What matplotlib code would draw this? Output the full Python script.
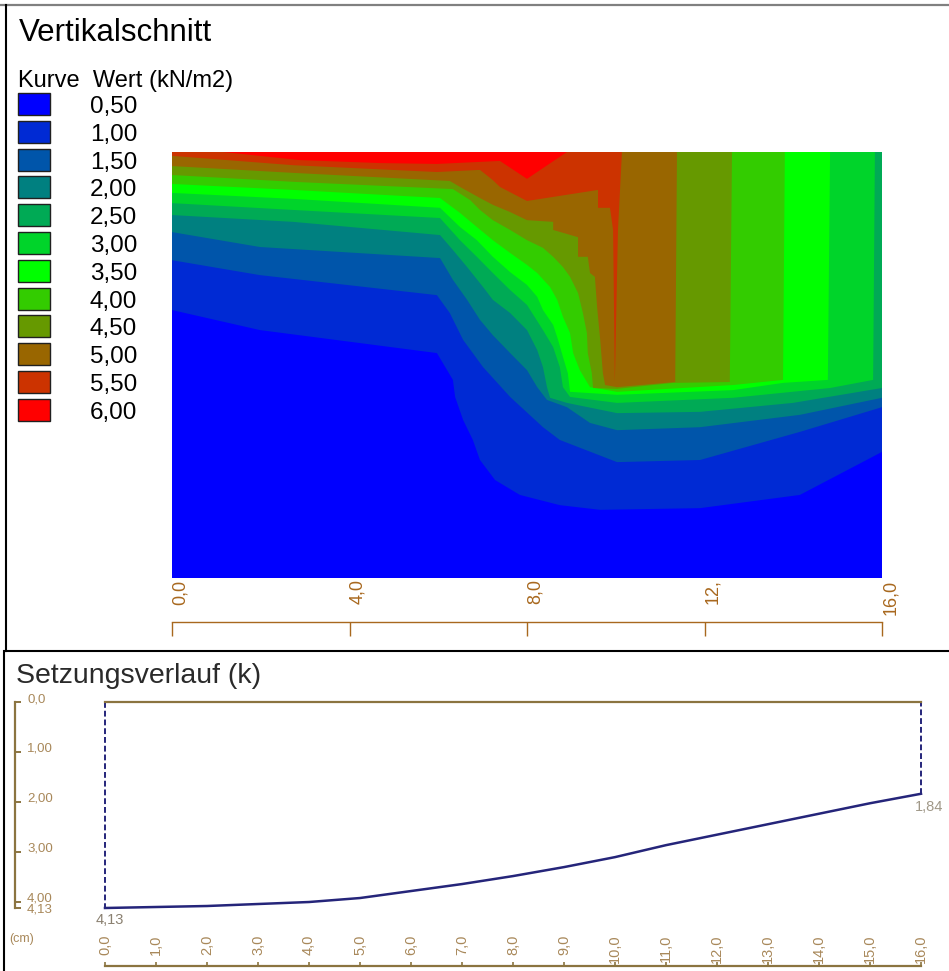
import matplotlib
matplotlib.use("Agg")
import matplotlib.pyplot as plt
from matplotlib.patches import Rectangle

plt.rcParams['font.family'] = ['Liberation Sans', 'DejaVu Sans']

W, H = 949, 971

# ---------------- Vertikalschnitt: legend ----------------
level_values = [0.5, 1.0, 1.5, 2.0, 2.5, 3.0, 3.5, 4.0, 4.5, 5.0, 5.5, 6.0]
level_labels = ['0,50', '1,00', '1,50', '2,00', '2,50', '3,00',
                '3,50', '4,00', '4,50', '5,00', '5,50', '6,00']
level_colors = ['#0000FF', '#002AD4', '#0055AA', '#008080', '#00AA55', '#00D42A',
                '#00FF00', '#33CC00', '#669900', '#996600', '#CC3300', '#FF0000']

# ---------------- Vertikalschnitt: isolines (x [m], depth) ----------------
# each line separates the band below from the band above (0.75 = between 0,50 and 1,00)
iso_075 = [(0, 3.71), (1.98, 4.18), (5.97, 4.72), (6.33, 5.35), (6.38, 5.75), (6.56, 6.29),
           (6.78, 6.76), (6.94, 7.23), (7.28, 7.70), (7.84, 8.05), (8.74, 8.29), (9.65, 8.40),
           (11.90, 8.36), (14.15, 8.05), (16, 7.04)]
iso_125 = [(0, 2.54), (1.98, 2.89), (5.97, 3.36), (6.26, 3.78), (6.56, 4.41), (7.01, 5.05),
           (7.62, 5.75), (8.36, 6.46), (8.74, 6.76), (10.03, 7.28), (11.90, 7.23),
           (14.15, 6.57), (16, 5.99)]
iso_175 = [(0, 1.88), (1.98, 2.23), (6.04, 2.49), (6.33, 3.00), (6.65, 3.47), (6.94, 3.94),
           (7.23, 4.30), (7.62, 4.72), (8.00, 5.12), (8.23, 5.52), (8.45, 5.82), (8.90, 5.99),
           (9.42, 6.36), (10.03, 6.53), (11.90, 6.46), (14.15, 6.17), (16, 5.77)]
iso_225 = [(0, 1.48), (2.73, 1.64), (6.04, 1.95), (6.33, 2.30), (6.65, 2.70), (7.01, 3.17),
           (7.23, 3.47), (7.62, 3.78), (8.00, 4.18), (8.23, 4.65), (8.36, 5.05), (8.45, 5.52),
           (8.52, 5.77), (8.90, 5.89), (10.03, 6.13), (11.90, 6.10), (13.99, 5.89), (16, 5.54)]
iso_275 = [(0, 1.20), (2.73, 1.36), (6.04, 1.55), (6.49, 2.07), (6.87, 2.46), (7.23, 2.84),
           (7.62, 3.24), (8.00, 3.59), (8.36, 4.18), (8.59, 4.58), (8.74, 5.05), (8.81, 5.52),
           (8.97, 5.75), (10.03, 5.89), (12.64, 5.77), (14.83, 5.54), (15.80, 5.35), (15.84, 0)]
iso_325 = [(0, 0.96), (2.73, 1.10), (6.04, 1.31), (6.49, 1.76), (6.87, 2.07), (7.23, 2.46),
           (7.62, 2.82), (8.00, 3.12), (8.23, 3.40), (8.36, 3.71), (8.59, 4.06), (8.70, 4.41),
           (8.81, 4.81), (8.92, 5.19), (8.97, 5.63), (10.03, 5.70), (12.64, 5.59),
           (13.77, 5.42), (14.78, 5.35), (14.83, 0)]
iso_375 = [(0, 0.75), (2.73, 0.89), (6.04, 1.08), (6.49, 1.43), (6.87, 1.76), (7.23, 2.07),
           (7.62, 2.37), (8.00, 2.65), (8.23, 2.84), (8.52, 3.17), (8.68, 3.47), (8.81, 3.87),
           (8.97, 4.25), (9.04, 4.72), (9.19, 5.12), (9.42, 5.52), (10.03, 5.63),
           (12.64, 5.47), (13.77, 5.35), (13.81, 0)]
iso_425 = [(0, 0.54), (2.73, 0.70), (6.33, 0.87), (6.72, 1.13), (6.94, 1.36), (7.23, 1.60),
           (7.62, 1.83), (8.00, 2.07), (8.36, 2.25), (8.59, 2.46), (8.81, 2.70), (8.97, 2.93),
           (9.15, 3.31), (9.26, 3.78), (9.35, 4.25), (9.37, 4.72), (9.46, 5.19), (9.49, 5.54),
           (10.03, 5.56), (11.29, 5.42), (12.57, 5.40), (12.62, 0)]
iso_475 = [(0, 0.33), (2.73, 0.49), (6.26, 0.68), (6.49, 0.82), (6.94, 1.08), (7.23, 1.24),
           (7.62, 1.41), (8.00, 1.60), (8.59, 1.64), (8.59, 1.83), (9.15, 2.00), (9.15, 2.46),
           (9.37, 2.46), (9.42, 2.84), (9.53, 2.93), (9.58, 3.64), (9.65, 4.41), (9.71, 5.19),
           (9.76, 5.47), (10.03, 5.52), (11.34, 5.40), (11.38, 0)]
iso_525 = [(0, 0.09), (2.73, 0.31), (5.97, 0.47), (6.94, 0.42), (7.23, 0.66), (7.39, 0.82),
           (8.00, 1.15), (9.60, 0.89), (9.60, 1.31), (9.87, 1.31), (9.94, 1.83), (9.98, 5.40),
           (10.05, 1.83), (10.14, 0)]
iso_575 = [(1.15, 0), (2.88, 0.19), (4.69, 0.26), (5.97, 0.28), (7.39, 0.21), (8.00, 0.63),
           (8.90, 0)]

isolines = [iso_075, iso_125, iso_175, iso_225, iso_275, iso_325,
            iso_375, iso_425, iso_475, iso_525, iso_575]

sec_length = 16.0
sec_depth = 10.0
sec_ticks = [0, 4, 8, 12, 16]
sec_tick_labels = ['0,0', '4,0', '8,0', '12,', '16,0']

# ---------------- Setzungsverlauf ----------------
setz_x = [0, 1, 2, 3, 4, 5, 6, 7, 8, 9, 10, 11, 12, 13, 14, 15, 16]
setz_val = [4.13, 4.11, 4.09, 4.05, 4.01, 3.93, 3.79, 3.65, 3.49, 3.31,
            3.11, 2.87, 2.66, 2.45, 2.24, 2.03, 1.84]
setz_xticks = list(range(17))
setz_xlabels = ['%d,0' % v for v in setz_xticks]
setz_yticks = [0, 1, 2, 3, 4, 4.13]
setz_ylabels = ['0,0', '1,00', '2,00', '3,00', '4,00', '4,13']

brown = '#A8681E'
tan = '#A8885A'
axis_brown = '#8B7440'
navy = '#25257A'


def fig_rect(left, top, right, bottom):
    return [left / W, 1 - bottom / H, (right - left) / W, (bottom - top) / H]


fig = plt.figure(figsize=(W / 100, H / 100), dpi=100)

# overlay in pixel units for frames, titles and legend
over = fig.add_axes([0, 0, 1, 1])
over.set_xlim(0, W)
over.set_ylim(H, 0)
over.axis('off')
over.plot([0, W], [5, 5], color='#808080', lw=1.6)
over.plot([6, 6], [5, 651], color='black', lw=1.5)
over.plot([6, W], [651, 651], color='black', lw=1.5)
over.plot([4.5, 4.5], [651, H], color='black', lw=1.5)

over.text(19, 41, 'Vertikalschnitt', fontsize=22.5, va='baseline', ha='left')
over.text(18, 87, 'Kurve  Wert (kN/m2)', fontsize=17, va='baseline', ha='left')
for i, (lab, col) in enumerate(zip(level_labels, level_colors)):
    top = 93 + 27.8 * i
    over.add_patch(Rectangle((18, top), 32, 22, facecolor=col, edgecolor='#202020', lw=1))
    over.text(90, top + 20, lab, fontsize=17.5, va='baseline', ha='left')

over.text(16, 683, 'Setzungsverlauf (k)', fontsize=20.5, va='baseline', ha='left', color='#2a2a2a')
over.text(22, 939, '(cm)', fontsize=9, va='center', ha='center', color=tan)

# ---------------- section plot ----------------
ax = fig.add_axes(fig_rect(172, 152, 882, 578))
ax.fill([0, sec_length, sec_length, 0], [0, 0, sec_depth, sec_depth],
        color=level_colors[0], lw=0)
for pts, col in zip(isolines, level_colors[1:]):
    xs = [p[0] for p in pts]
    zs = [p[1] for p in pts]
    if zs[-1] > 0:
        xs.append(sec_length)
        zs.append(0)
    if xs[0] == 0:
        xs.append(0)
        zs.append(0)
    ax.fill(xs, zs, color=col, lw=0)
ax.set_xlim(0, sec_length)
ax.set_ylim(sec_depth, 0)
for s in ax.spines.values():
    s.set_visible(False)
ax.set_yticks([])
ax.set_xticks(sec_ticks)
ax.set_xticklabels(sec_tick_labels, rotation=90, ha='left', va='top',
                   color=brown, fontsize=13)
ax.tick_params(axis='x', length=0, pad=1)

# bracket scale below the section
br = fig.add_axes(fig_rect(172, 622, 882, 636))
br.set_xlim(0, sec_length)
br.set_ylim(0, 1)
for k, s in br.spines.items():
    s.set_visible(k == 'top')
br.spines['top'].set_color(brown)
br.spines['top'].set_linewidth(1)
br.set_xticks(sec_ticks)
br.set_yticks([])
br.tick_params(axis='x', bottom=False, top=True, direction='in', length=10,
               color=brown, width=1, labelbottom=False, labeltop=False)
br.patch.set_alpha(0)

# ---------------- settlement plot ----------------
ax2 = fig.add_axes(fig_rect(105, 702, 921, 908))
ax2.set_xlim(0, 16)
ax2.set_ylim(4.13, 0)
for k, s in ax2.spines.items():
    s.set_visible(k == 'top')
ax2.spines['top'].set_color(axis_brown)
ax2.spines['top'].set_linewidth(1.6)
ax2.patch.set_alpha(0)
ax2.plot(setz_x, setz_val, color=navy, lw=1.8, clip_on=False)
ax2.plot([setz_x[0], setz_x[0]], [0, setz_val[0]], color=navy, lw=1.4,
         ls=(0, (3, 1.5)), clip_on=False)
ax2.plot([setz_x[-1], setz_x[-1]], [setz_val[-1], 0], color=navy, lw=1.4,
         ls=(0, (3, 1.5)), clip_on=False)
ax2.annotate('4,13', xy=(setz_x[0], setz_val[0]), xytext=(-7, -8.6),
             textcoords='offset points', ha='left', va='center', fontsize=10.5, color='#8A8070')
ax2.annotate('1,84', xy=(setz_x[-1], setz_val[-1]), xytext=(-4.5, -9.4),
             textcoords='offset points', ha='left', va='center', fontsize=10.5, color='#A09888')
ax2.set_yticks([])
ax2.set_xticks(setz_xticks)
ax2.set_xticklabels(setz_xlabels, rotation=90, ha='center', va='top',
                    color=tan, fontsize=10.5)
ax2.tick_params(axis='x', length=0, pad=19)

# left bracket axis
by = fig.add_axes(fig_rect(15, 702, 16, 908))
by.set_ylim(4.13, 0)
by.set_xlim(0, 1)
for k, s in by.spines.items():
    s.set_visible(k == 'left')
by.spines['left'].set_color(axis_brown)
by.spines['left'].set_linewidth(1.6)
by.set_xticks([])
by.set_yticks(setz_yticks)
by.set_yticklabels(setz_ylabels, fontsize=9.5, color=tan)
by.tick_params(axis='y', left=True, right=False, direction='in', length=4.5,
               color=axis_brown, width=1.4, labelleft=False, labelright=True, pad=8)
for lab in by.get_yticklabels()[:-1]:
    lab.set_va('baseline')
by.patch.set_alpha(0)

# bottom scale line
bx = fig.add_axes(fig_rect(105, 965, 921, 966))
bx.set_xlim(0, 16)
for k, s in bx.spines.items():
    s.set_visible(k == 'bottom')
bx.spines['bottom'].set_color(axis_brown)
bx.spines['bottom'].set_linewidth(1.6)
bx.set_yticks([])
bx.set_xticks(setz_xticks)
bx.tick_params(axis='x', direction='in', length=3, color=axis_brown, width=1.2,
               labelbottom=False)
bx.patch.set_alpha(0)

fig.savefig('out.png', dpi=100)
